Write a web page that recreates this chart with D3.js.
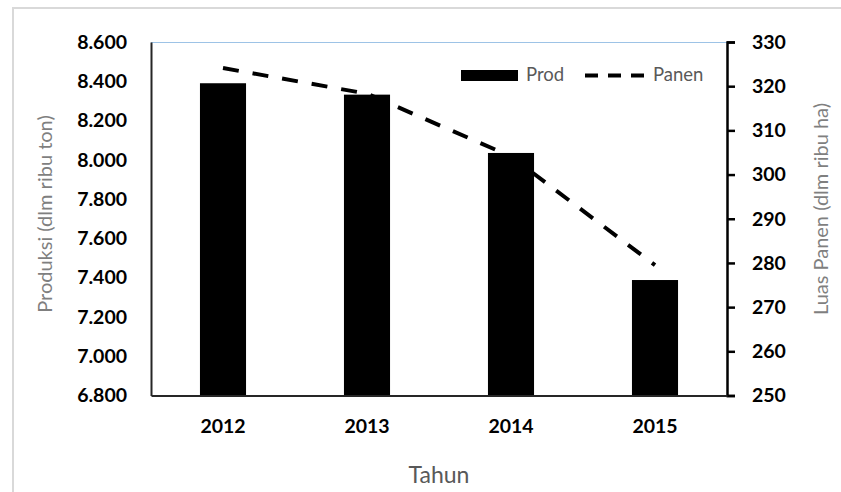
<!DOCTYPE html>
<html>
<head>
<meta charset="utf-8">
<script src="https://cdn.jsdelivr.net/npm/d3@7/dist/d3.min.js"></script>
<style>
  html, body { margin: 0; padding: 0; background: #fff; }
  svg { display: block; font-family: Lato, "Open Sans", sans-serif; }
</style>
</head>
<body>
<svg id="chart" width="841" height="492"></svg>
<script>
// Produksi dan luas panen per tahun
const years = ["2012", "2013", "2014", "2015"];
const produksi = [8390, 8332, 8035, 7388];   // ribu ton
const panen = [324.1, 318.3, 304.1, 279.5];   // ribu ha
const leftTicks = [6800, 7000, 7200, 7400, 7600, 7800, 8000, 8200, 8400, 8600];
const rightTicks = [250, 260, 270, 280, 290, 300, 310, 320, 330];

const svg = d3.select("#chart");
const m = { left: 151, right: 727, top: 42, bottom: 395.5 };

// outer frame
svg.append("rect")
  .attr("x", 13).attr("y", 8).attr("width", 840).attr("height", 500)
  .attr("fill", "#fff").attr("stroke", "#d9d9d9").attr("stroke-width", 2);

const x = d3.scaleBand().domain(years).range([m.left, m.right])
  .paddingInner(0.68).paddingOuter(0.34);
const yL = d3.scaleLinear().domain([6800, 8600]).range([m.bottom, m.top]);
const yR = d3.scaleLinear().domain([250, 330]).range([m.bottom, m.top]);

const fmtL = d => (d / 1000).toFixed(3);

// plot-area top border
svg.append("line")
  .attr("x1", m.left).attr("x2", m.right).attr("y1", m.top + 0.5).attr("y2", m.top + 0.5)
  .attr("stroke", "#9dc3e6").attr("stroke-width", 1.2);

// bars
svg.append("g").selectAll("rect").data(years).join("rect")
  .attr("x", d => x(d))
  .attr("y", (d, i) => yL(produksi[i]))
  .attr("width", x.bandwidth())
  .attr("height", (d, i) => yL(6800) - yL(produksi[i]))
  .attr("fill", "#000");

// dashed line
const line = d3.line()
  .x((d, i) => x(years[i]) + x.bandwidth() / 2)
  .y(d => yR(d));
svg.append("path").datum(panen)
  .attr("d", line)
  .attr("fill", "none").attr("stroke", "#000")
  .attr("stroke-width", 4).attr("stroke-dasharray", "16,14");

const tickFont = sel => sel.attr("font-size", 19.5).attr("font-weight", "bold")
  .attr("fill", "#000").attr("font-family", "Lato");

// left axis
const axL = d3.axisLeft(yL).tickValues(leftTicks).tickSize(0).tickPadding(24).tickFormat(fmtL);
const gL = svg.append("g").attr("transform", `translate(${m.left},0)`).call(axL);
gL.select(".domain").attr("stroke", "#262626").attr("stroke-width", 2);
gL.selectAll("text").call(tickFont);

// right axis
const axR = d3.axisRight(yR).tickValues(rightTicks).tickSize(8).tickPadding(17).tickFormat(d3.format("d"));
const gR = svg.append("g").attr("transform", `translate(${m.right},0)`).call(axR);
gR.select(".domain").attr("stroke", "#000").attr("stroke-width", 2.5);
gR.selectAll(".tick line").attr("stroke", "#000").attr("stroke-width", 2.5);
gR.selectAll("text").call(tickFont);

// bottom axis
const axB = d3.axisBottom(x).tickSize(0).tickPadding(24);
const gB = svg.append("g").attr("transform", `translate(0,${m.bottom})`).call(axB);
gB.select(".domain").attr("stroke", "#262626").attr("stroke-width", 2);
gB.selectAll("text").call(tickFont);

// axis titles
svg.append("text")
  .attr("transform", "translate(52,214) rotate(-90)")
  .attr("text-anchor", "middle")
  .attr("font-size", 20).attr("fill", "#7f7f7f")
  .text("Produksi (dlm ribu ton)");
svg.append("text")
  .attr("transform", "translate(828,209) rotate(-90)")
  .attr("text-anchor", "middle")
  .attr("font-size", 20).attr("fill", "#7f7f7f")
  .text("Luas Panen (dlm ribu ha)");
svg.append("text")
  .attr("x", 439).attr("y", 483)
  .attr("text-anchor", "middle")
  .attr("font-size", 23).attr("fill", "#595959")
  .text("Tahun");

// legend
const lg = svg.append("g");
lg.append("rect").attr("x", 461).attr("y", 70).attr("width", 57).attr("height", 11).attr("fill", "#000");
lg.append("text").attr("x", 526).attr("y", 81).attr("font-size", 18.5).attr("fill", "#595959").text("Prod");
lg.append("line").attr("x1", 585).attr("x2", 644).attr("y1", 75.5).attr("y2", 75.5)
  .attr("stroke", "#000").attr("stroke-width", 4).attr("stroke-dasharray", "13,10");
lg.append("text").attr("x", 653).attr("y", 81).attr("font-size", 18.5).attr("fill", "#595959").text("Panen");
</script>
</body>
</html>
